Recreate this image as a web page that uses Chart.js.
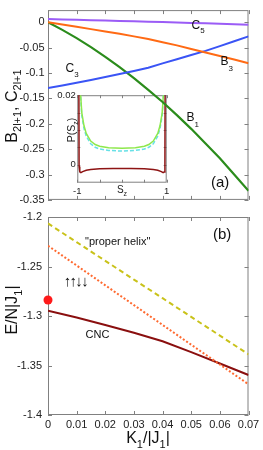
<!DOCTYPE html>
<html>
<head>
<meta charset="utf-8">
<script src="https://cdn.jsdelivr.net/npm/chart.js@4.4.1/dist/chart.umd.min.js"></script>
<style>
    html, body { margin: 0; padding: 0; background: #fff; }
    #wrap { position: relative; width: 263px; height: 450px; overflow: hidden; }
    canvas { position: absolute; }
    #inset { left: 45px; top: 88px; }
    #top { left: 0; top: 0; }
    #bottom { left: 0; top: 200px; }
</style>
</head>
<body>
<div id="wrap">
    <canvas id="inset" width="130" height="110"></canvas>
    <canvas id="top" width="263" height="210"></canvas>
    <canvas id="bottom" width="263" height="250"></canvas>
</div>
<script>
// panel (a): coefficients vs K1/|J1|
var topK = [0, 0.005, 0.01, 0.015, 0.02, 0.025, 0.03, 0.035, 0.04, 0.045, 0.05, 0.055, 0.06, 0.065, 0.07];
var c5 = [0.0063, 0.0055, 0.0048, 0.0040, 0.0033, 0.0026, 0.0018, 0.0011, 0.0004, -0.0004, -0.0012, -0.0021, -0.0030, -0.0039, -0.0048];
var b3 = [0, -0.0045, -0.009, -0.0135, -0.018, -0.0228, -0.0278, -0.033, -0.0392, -0.0455, -0.0525, -0.0595, -0.0665, -0.0735, -0.0807];
var c3 = [-0.1296, -0.1245, -0.1192, -0.1137, -0.108, -0.102, -0.096, -0.0895, -0.081, -0.073, -0.0645, -0.0563, -0.047, -0.0375, -0.0278];
var b1 = [0, -0.015, -0.0313, -0.049, -0.068, -0.0883, -0.110, -0.133, -0.157, -0.183, -0.210, -0.239, -0.268, -0.300, -0.332];

// inset: P(Sz)
var insetS = [-0.95, -0.93, -0.9, -0.85, -0.8, -0.7, -0.6, -0.5, -0.3, 0, 0.3, 0.5, 0.6, 0.7, 0.8, 0.85, 0.9, 0.93, 0.95];
var pGreen = [0.030, 0.021, 0.0150, 0.0112, 0.0090, 0.0068, 0.0058, 0.0053, 0.0049, 0.0047, 0.0049, 0.0053, 0.0058, 0.0068, 0.0090, 0.0112, 0.0150, 0.021, 0.030];
var pCyan = [0.030, 0.0205, 0.0142, 0.0104, 0.0082, 0.0060, 0.0050, 0.0045, 0.0041, 0.0039, 0.0041, 0.0045, 0.0050, 0.0060, 0.0082, 0.0104, 0.0142, 0.0205, 0.030];
var redS = [-0.965, -0.96, -0.945, -0.92, -0.88, -0.8, -0.7, -0.5, -0.2, 0, 0.2, 0.5, 0.7, 0.8, 0.88, 0.92, 0.945, 0.96, 0.965];
var pRed = [0.025, -0.0005, -0.0021, -0.0023, -0.0020, -0.0016, -0.0014, -0.0012, -0.0011, -0.0011, -0.0011, -0.0012, -0.0014, -0.0016, -0.0020, -0.0023, -0.0021, -0.0005, 0.025];

// panel (b): energies
var bottomK = [0, 0.01, 0.02, 0.03, 0.04, 0.05, 0.06, 0.07];
var helix = [-1.2065, -1.2254, -1.2443, -1.2632, -1.2820, -1.3009, -1.3198, -1.3387];
var uudd = [-1.229, -1.249, -1.269, -1.289, -1.309, -1.329, -1.349, -1.369];
var cnc = [-1.2946, -1.3015, -1.309, -1.317, -1.3255, -1.3365, -1.348, -1.3596];
var dotK = [0];
var dotE = [-1.2838];

// tick labels
var kTicks = [0, 0.01, 0.02, 0.03, 0.04, 0.05, 0.06, 0.07];
var topYTicks = [-0.35, -0.3, -0.25, -0.2, -0.15, -0.1, -0.05, 0];
var bottomYTicks = [-1.4, -1.35, -1.3, -1.25, -1.2];
var insetXTicks = [-1, -0.5, 0, 0.5, 1];
var insetYTicks = [0, 0.005, 0.01, 0.015, 0.02];

var FONT = '"Liberation Sans", Arial, sans-serif';
Chart.defaults.font.family = FONT;
Chart.defaults.color = '#222';

function pts(xs, ys) {
    return xs.map(function(x, i) {
        return { x: x, y: ys[i] };
    });
}

function line(xs, ys, color, width, dash) {
    return {
        data: pts(xs, ys),
        borderColor: color,
        borderWidth: width,
        borderDash: dash || [],
        pointRadius: 0,
        fill: false
    };
}

function setTicks(arr) {
    return function(scale) {
        scale.ticks = arr.map(function(v) { return { value: v }; });
    };
}

function fmt(v) {
    return String(+v.toFixed(3));
}

// text with subscripts: parts = [[text, isSub], ...]
function richText(ctx, parts, x, y, size, center, drop) {
    var sub = Math.round(size * 0.68);
    var w = 0;
    parts.forEach(function(p) {
        ctx.font = (p[1] ? sub : size) + 'px ' + FONT;
        w += ctx.measureText(p[0]).width;
    });
    var cx = center ? x - w / 2 : x;
    ctx.textAlign = 'left';
    ctx.textBaseline = 'alphabetic';
    parts.forEach(function(p) {
        ctx.font = (p[1] ? sub : size) + 'px ' + FONT;
        ctx.fillText(p[0], cx, p[1] ? y + size * drop : y);
        cx += ctx.measureText(p[0]).width;
    });
}

function rotated(ctx, parts, x, y, size, drop) {
    ctx.save();
    ctx.translate(x, y);
    ctx.rotate(-Math.PI / 2);
    richText(ctx, parts, 0, 0, size, true, drop);
    ctx.restore();
}

// box with inward tick marks on all four sides
var frameTicks = {
    id: 'frameTicks',
    beforeDatasetsDraw: function(chart, args, opts) {
        var ctx = chart.ctx, a = chart.chartArea;
        var len = opts.len || 4;
        var xs = chart.scales.x, ys = chart.scales.y;
        ctx.save();
        ctx.strokeStyle = opts.color || '#808080';
        ctx.lineWidth = 1;
        ctx.strokeRect(a.left + 0.5, a.top + 0.5, a.right - a.left - 1, a.bottom - a.top - 1);
        ctx.beginPath();
        xs.ticks.forEach(function(t) {
            var px = Math.round(xs.getPixelForValue(t.value)) + 0.5;
            ctx.moveTo(px, a.bottom); ctx.lineTo(px, a.bottom - len);
            ctx.moveTo(px, a.top); ctx.lineTo(px, a.top + len);
        });
        ys.ticks.forEach(function(t) {
            var py = Math.round(ys.getPixelForValue(t.value)) + 0.5;
            ctx.moveTo(a.left, py); ctx.lineTo(a.left + len, py);
            ctx.moveTo(a.right, py); ctx.lineTo(a.right - len, py);
        });
        ctx.stroke();
        ctx.restore();
    }
};

var plain = { display: false, drawTicks: false };
var noBorder = { display: false };

// inset
new Chart(document.getElementById('inset'), {
    type: 'line',
    data: {
        datasets: [
            line(insetS, pGreen, '#8ee84c', 1.5),
            line(insetS, pCyan, '#66e0e6', 1.5, [4, 2]),
            line(redS, pRed, '#8e1414', 1.5)
        ]
    },
    options: {
        responsive: false,
        animation: false,
        devicePixelRatio: 1,
        layout: { padding: { left: 0, right: 8.3, top: 6, bottom: 0 } },
        plugins: { legend: { display: false }, tooltip: { enabled: false }, frameTicks: { len: 3 } },
        scales: {
            x: {
                type: 'linear', min: -1, max: 1,
                grid: plain, border: noBorder,
                afterBuildTicks: setTicks(insetXTicks),
                ticks: {
                    padding: 3, maxRotation: 0, autoSkip: false,
                    font: { size: 9.5 },
                    callback: function(v) { return Math.abs(v) === 1 ? String(v) : ''; }
                },
                afterFit: function(s) { s.height = 15.3; }
            },
            y: {
                min: -0.0052, max: 0.02,
                grid: plain, border: noBorder,
                afterBuildTicks: setTicks(insetYTicks),
                ticks: {
                    padding: 1.5, autoSkip: false,
                    font: { size: 9.5 },
                    callback: function(v) { return v === 0 ? '0' : (Math.abs(v - 0.02) < 1e-9 ? '0.02' : ''); }
                },
                afterFit: function(s) { s.width = 32.3; }
            }
        }
    },
    plugins: [frameTicks, {
        id: 'insetText',
        afterDraw: function(chart) {
            var ctx = chart.ctx;
            ctx.save();
            ctx.fillStyle = '#222';
            richText(ctx, [['S', false], ['z', true]], 77, 104.7, 10, true, 0.3);
            rotated(ctx, [['P(S', false], ['z', true], [')', false]], 29.5, 42, 10.5, 0.3);
            ctx.restore();
        }
    }]
});

// panel (a)
new Chart(document.getElementById('top'), {
    type: 'line',
    data: {
        datasets: [
            line(topK, c5, '#9b5cf6', 2),
            line(topK, b3, '#ff6a14', 2),
            line(topK, c3, '#3a54f5', 2),
            line(topK, b1, '#2b8c1c', 2.2)
        ]
    },
    options: {
        responsive: false,
        animation: false,
        devicePixelRatio: 1,
        layout: { padding: { left: 0, right: 14.5, top: 3, bottom: 0 } },
        plugins: { legend: { display: false }, tooltip: { enabled: false }, frameTicks: {} },
        scales: {
            x: {
                type: 'linear', min: 0, max: 0.07,
                grid: plain, border: noBorder,
                afterBuildTicks: setTicks(kTicks),
                ticks: { display: false },
                afterFit: function(s) { s.height = 7; }
            },
            y: {
                min: -0.35, max: 0.024,
                grid: plain, border: noBorder,
                afterBuildTicks: setTicks(topYTicks),
                ticks: { padding: 3.5, font: { size: 11 }, callback: fmt },
                afterFit: function(s) { s.width = 48; }
            }
        }
    },
    plugins: [frameTicks, {
        id: 'topText',
        afterDraw: function(chart) {
            var ctx = chart.ctx;
            ctx.save();
            ctx.fillStyle = '#111';
            richText(ctx, [['C', false], ['5', true]], 191.5, 28.5, 12, false, 0.4);
            richText(ctx, [['B', false], ['3', true]], 220.5, 65, 12, false, 0.5);
            richText(ctx, [['C', false], ['3', true]], 65.5, 71.7, 12, false, 0.45);
            richText(ctx, [['B', false], ['1', true]], 186.5, 120.5, 12, false, 0.5);
            ctx.font = '15px ' + FONT;
            ctx.fillText('(a)', 211, 187);
            rotated(ctx, [['B', false], ['2l+1', true], [', C', false], ['2l+1', true]], 16.5, 106, 16, 0.3);
            ctx.restore();
        }
    }]
});

// panel (b)
var dots = {
    data: pts(dotK, dotE),
    showLine: false,
    pointRadius: 4.5,
    pointBackgroundColor: '#ff1a1a',
    pointBorderWidth: 0,
    clip: false
};

new Chart(document.getElementById('bottom'), {
    type: 'line',
    data: {
        datasets: [
            line(bottomK, helix, '#c9c21a', 2, [5, 3.5]),
            line(bottomK, uudd, '#ff6a30', 2, [2, 2]),
            line(bottomK, cnc, '#8a0f0f', 2),
            dots
        ]
    },
    options: {
        responsive: false,
        animation: false,
        devicePixelRatio: 1,
        layout: { padding: { left: 0, right: 14.5, top: 17, bottom: 0 } },
        plugins: { legend: { display: false }, tooltip: { enabled: false }, frameTicks: {} },
        scales: {
            x: {
                type: 'linear', min: 0, max: 0.07,
                grid: plain, border: noBorder,
                afterBuildTicks: setTicks(kTicks),
                ticks: { padding: 3, maxRotation: 0, autoSkip: false, font: { size: 11 }, callback: fmt },
                afterFit: function(s) { s.height = 35; }
            },
            y: {
                min: -1.4, max: -1.2,
                grid: plain, border: noBorder,
                afterBuildTicks: setTicks(bottomYTicks),
                ticks: { padding: 6, font: { size: 11 }, callback: fmt },
                afterFit: function(s) { s.width = 48; }
            }
        }
    },
    plugins: [frameTicks, {
        id: 'bottomText',
        afterDraw: function(chart) {
            var ctx = chart.ctx;
            ctx.save();
            ctx.fillStyle = '#111';
            ctx.textAlign = 'left';
            ctx.textBaseline = 'alphabetic';
            ctx.font = '15px ' + FONT;
            ctx.fillText('(b)', 213, 39);
            ctx.font = '11px ' + FONT;
            ctx.fillText('"proper helix"', 85, 45);
            ctx.fillText('CNC', 85.5, 138);
            // spin arrows, one by one so they keep their spacing
            ctx.font = '15px ' + FONT;
            ctx.textAlign = 'center';
            ctx.textBaseline = 'middle';
            ['\u2191', '\u2191', '\u2193', '\u2193'].forEach(function(ch, i) {
                ctx.fillText(ch, 67.5 + i * 5.8, 82);
            });
            ctx.textAlign = 'left';
            ctx.textBaseline = 'alphabetic';
            richText(ctx, [['K', false], ['1', true], ['/|J', false], ['1', true], ['|', false]], 148, 243, 16, true, 0.3);
            rotated(ctx, [['E/N|J', false], ['1', true], ['|', false]], 17, 110, 16, 0.3);
            ctx.restore();
        }
    }]
});
</script>
</body>
</html>
